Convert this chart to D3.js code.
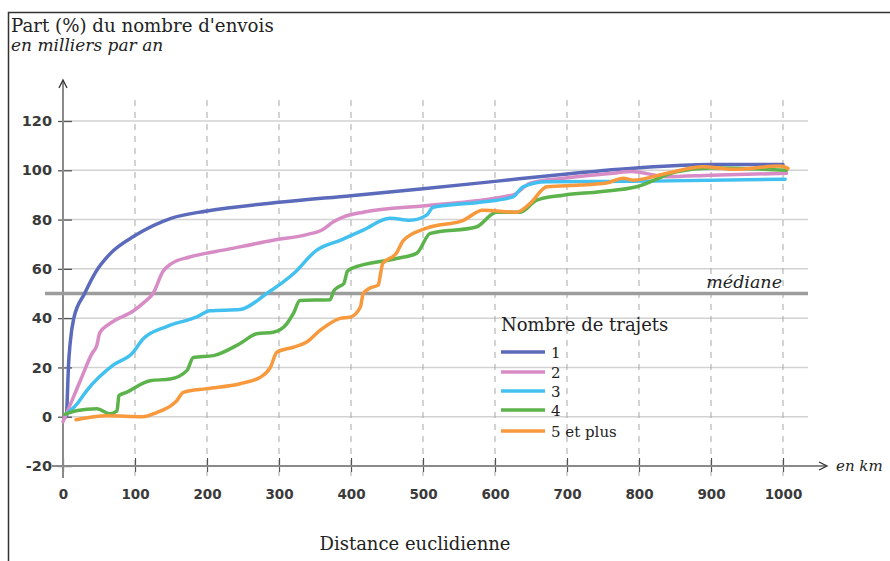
<html>
<head>
<meta charset="utf-8">
<title>Part du nombre d'envois</title>
<script src="https://d3js.org/d3.v7.min.js"></script>
<style>
  body { margin: 0; background: #fff; }
  svg text { fill: #222; }
</style>
</head>
<body>
<div id="chart"></div>
<script>
// data: [distance km, part %]
var xTicks = [0, 100, 200, 300, 400, 500, 600, 700, 800, 900, 1000];
var yTicks = [-20, 0, 20, 40, 60, 80, 100, 120];
var seriesNames = ["1", "2", "3", "4", "5 et plus"];
var seriesColors = ["#5b6abb", "#d78cc5", "#42c0ef", "#5db34b", "#f7993c"];
var median = 50;

var s1 = [[5,0],[6,8],[7.5,20],[10,30],[15,40],[30,50],[46,59],[65,66],[100,73.5],[150,80.5],[200,83.5],
  [300,87],[400,89.7],[500,92.5],[600,95.5],[700,98.5],[800,101],[900,102.3],[1000,102.3]];
var s2 = [[0,-2],[3,0],[24,14.6],[40,25.5],[47,29],[51,34],[65,37.8],[98,43],[113,46.5],[125,50],[139,59],
  [150,62],[176,64.8],[230,68],[292,71.6],[340,74],[361,76],[375,79],[389,81],[417,83],[510,85.8],[625,90],
  [649,94.8],[695,96.8],[764,98.8],[790,99.5],[839,97.4],[900,98],[1005,98.8]];
var s3 = [[4,1],[19,5],[33,10.6],[70,21],[97,26],[107,30],[111,31.5],[144,36.6],[186,40.5],[204,43],[246,43.5],
  [283,50],[320,58],[352,67.5],[385,71.6],[417,75.7],[454,80.5],[482,79.7],[505,81.8],[514,85],[579,87],
  [625,89.2],[639,93.3],[672,95.3],[792,95.5],[1003,96.4]];
var s4 = [[3,1],[20,2.5],[47,3.2],[65,1.2],[75,2.4],[76.5,5.8],[77.5,8.5],[88,9.9],[121,14.6],[149,15.3],[172,18.7],
  [181,24],[209,24.8],[246,29.7],[269,33.7],[292,34.3],[311,37.8],[320,41.9],[329,47.2],[371,47.5],[376,51],
  [382,52.6],[390,54],[395,59],[401,60.2],[463,64.2],[491,66.3],[510,74.4],[574,77],[602,83],[635,83],
  [658,87.9],[695,89.9],[746,91.3],[797,93.3],[852,99.4],[899,100.9],[1005,100]];
var s5 = [[18,-1.2],[61,0.4],[111,0],[130,1.7],[150,4.5],[158,6.5],[167,9.9],[200,11.4],[246,13.4],[274,16],
  [288,20],[297,26.2],[320,28.2],[338,30.2],[357,35],[385,39.9],[399,40.4],[413,44.5],[417,50],[425,52],
  [438,53.5],[441,58],[444,62.2],[463,66.3],[473,71.6],[505,76.5],[556,79.7],[583,83.8],[630,83],[649,86.6],
  [672,93.3],[718,94],[755,94.8],[778,96.8],[792,96],[839,98.8],[889,101.4],[931,100.4],[996,101.7],[1007,100.8]];
var allSeries = [s1, s2, s3, s4, s5];

var width = 890, height = 561;
var svg = d3.select("#chart").append("svg")
    .attr("width", width)
    .attr("height", height);

var x = d3.scaleLinear().domain([0, 1000]).range([63, 783]);
var y = d3.scaleLinear().domain([-20, 120]).range([466, 121]);

// frame
svg.append("rect")
  .attr("x", 8.5).attr("y", 12.5)
  .attr("width", 1000).attr("height", 700)
  .attr("fill", "none").attr("stroke", "#333").attr("stroke-width", 1.5);

// horizontal grid
svg.append("g").selectAll("line")
  .data(yTicks.filter(function(d) { return d > -20; }))
  .enter().append("line")
    .attr("x1", x(0)).attr("x2", 808)
    .attr("y1", function(d) { return y(d); })
    .attr("y2", function(d) { return y(d); })
    .attr("stroke", "#d2d2d2").attr("stroke-width", 1.5);

// vertical dashed grid
svg.append("g").selectAll("line")
  .data(xTicks.filter(function(d) { return d > 0; }))
  .enter().append("line")
    .attr("x1", function(d) { return x(d); })
    .attr("x2", function(d) { return x(d); })
    .attr("y1", 100).attr("y2", 476)
    .attr("stroke", "#a8a8a8").attr("stroke-width", 1)
    .attr("stroke-dasharray", "6,6");

var fmt = function(d) { return String(d); };

// y axis
var yAxis = svg.append("g")
  .attr("transform", "translate(" + x(0) + ",0)")
  .call(d3.axisLeft(y).tickValues(yTicks).tickFormat(fmt).tickSize(6).tickPadding(5));
yAxis.select(".domain").remove();
yAxis.selectAll(".tick line").attr("x1", -5).attr("x2", 9).attr("stroke", "#555").attr("stroke-width", 1.3);
yAxis.selectAll(".tick text")
  .attr("font-family", "DejaVu Sans").attr("font-weight", "bold").attr("font-size", 14.5)
  .style("fill", "#3a3a3a");

// x axis
var xAxis = svg.append("g")
  .attr("transform", "translate(0," + y(-20) + ")")
  .call(d3.axisBottom(x).tickValues(xTicks).tickFormat(fmt).tickSize(6).tickPadding(17));
xAxis.select(".domain").remove();
xAxis.selectAll(".tick line").attr("y1", -8).attr("y2", 6).attr("stroke", "#555").attr("stroke-width", 1.2);
xAxis.selectAll(".tick text")
  .attr("font-family", "DejaVu Sans").attr("font-weight", "bold").attr("font-size", 13.5)
  .style("fill", "#3a3a3a");

// axis lines with arrows
svg.append("line")
  .attr("x1", x(0)).attr("x2", x(0)).attr("y1", 81).attr("y2", 478)
  .attr("stroke", "#8a8a8a").attr("stroke-width", 2);
svg.append("path")
  .attr("d", "M" + (x(0) - 4) + ",88L" + x(0) + ",80L" + (x(0) + 4) + ",88")
  .attr("fill", "none").attr("stroke", "#333").attr("stroke-width", 1.3);
svg.append("line")
  .attr("x1", 52).attr("x2", 826).attr("y1", y(-20)).attr("y2", y(-20))
  .attr("stroke", "#8a8a8a").attr("stroke-width", 2);
svg.append("path")
  .attr("d", "M819," + (y(-20) - 4) + "L827," + y(-20) + "L819," + (y(-20) + 4))
  .attr("fill", "none").attr("stroke", "#333").attr("stroke-width", 1.3);

// median line
svg.append("line")
  .attr("x1", 45).attr("x2", 808)
  .attr("y1", y(median)).attr("y2", y(median))
  .attr("stroke", "#9c9c9c").attr("stroke-width", 3.5);
svg.append("text")
  .attr("x", 782).attr("y", y(median) - 6)
  .attr("text-anchor", "end")
  .attr("font-family", "DejaVu Serif").attr("font-style", "italic").attr("font-size", 17.5)
  .text("médiane");

// curves
var line = d3.line()
  .x(function(d) { return x(d[0]); })
  .y(function(d) { return y(d[1]); })
  .curve(d3.curveMonotoneX);

svg.append("g").selectAll("path")
  .data(allSeries)
  .enter().append("path")
    .attr("d", line)
    .attr("fill", "none")
    .attr("stroke", function(d, i) { return seriesColors[i]; })
    .attr("stroke-width", 3.5)
    .attr("stroke-linejoin", "round")
    .attr("stroke-linecap", "round");

// legend
var legend = svg.append("g").attr("transform", "translate(501,0)");
legend.append("text")
  .attr("x", 0).attr("y", 331)
  .attr("font-family", "DejaVu Serif").attr("font-size", 18)
  .text("Nombre de trajets");
var legendY = [352, 372, 391, 410, 431];
seriesNames.forEach(function(name, i) {
  legend.append("line")
    .attr("x1", 0).attr("x2", 44)
    .attr("y1", legendY[i]).attr("y2", legendY[i])
    .attr("stroke", seriesColors[i]).attr("stroke-width", 3.5);
  legend.append("text")
    .attr("x", 50).attr("y", legendY[i] + 6)
    .attr("font-family", "DejaVu Serif").attr("font-size", 15)
    .text(name);
});

// titles
svg.append("text")
  .attr("x", 11).attr("y", 32)
  .attr("font-family", "DejaVu Serif").attr("font-size", 18.2)
  .text("Part (%) du nombre d'envois");
svg.append("text")
  .attr("x", 11).attr("y", 51)
  .attr("font-family", "DejaVu Serif").attr("font-style", "italic").attr("font-size", 17)
  .text("en milliers par an");
svg.append("text")
  .attr("x", 836).attr("y", y(-20) + 5)
  .attr("font-family", "DejaVu Serif").attr("font-style", "italic").attr("font-size", 15)
  .text("en km");
svg.append("text")
  .attr("x", 415).attr("y", 550)
  .attr("text-anchor", "middle")
  .attr("font-family", "DejaVu Serif").attr("font-size", 18)
  .text("Distance euclidienne");
</script>
</body>
</html>
